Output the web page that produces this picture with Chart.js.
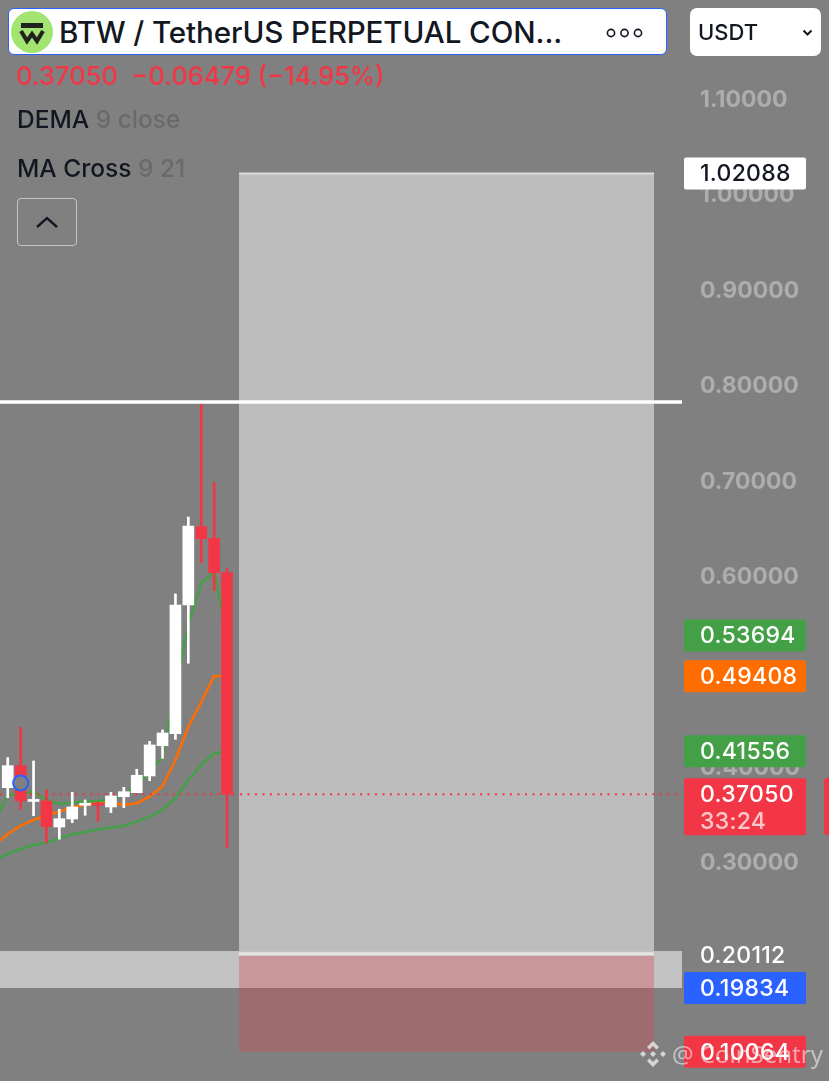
<!DOCTYPE html>
<html>
<head>
<meta charset="utf-8">
<script src="https://cdn.jsdelivr.net/npm/chart.js@4"></script>
<style>
  html, body { margin: 0; padding: 0; background: #808080; }
  body { position: relative; width: 829px; height: 1081px; overflow: hidden; font-family: Inter, Roboto, sans-serif; }
  #priceChart { position: absolute; left: 0; top: 0; }
  .abs { position: absolute; white-space: nowrap; }
  #titleBox { left: 8px; top: 8px; width: 657px; height: 45px; background: #fff; border: 1.5px solid #2962ff; border-radius: 6px; }
  #title { left: 59px; top: 13px; font-size: 29.6px; line-height: 38px; font-weight: 500; color: #131722; letter-spacing: -0.1px; }
  #dots { left: 606px; top: 27px; }
  #unitBox { left: 690px; top: 8px; width: 131px; height: 48px; background: #fff; border-radius: 7px; }
  #unit { left: 698px; top: 18px; font-size: 22px; line-height: 28px; font-weight: 500; color: #131722; }
  #price { left: 16px; top: 61px; font-size: 25.5px; line-height: 30px; font-weight: 500; color: #f23645; }
  .study { left: 17px; font-size: 24.5px; line-height: 30px; font-weight: 500; color: #131722; }
  .study span { color: #6a6a6a; }
  #collapse { left: 17px; top: 198px; width: 58px; height: 46px; border: 1.5px solid #c4c4c4; border-radius: 4px; }
  #edge { left: 824px; top: 778px; width: 5px; height: 57px; background: #f23645; border-radius: 3px 0 0 3px; }
  #mark { left: 672px; top: 1039px; font-size: 24px; line-height: 30px; font-family: "Noto Sans", sans-serif; color: rgba(235,235,235,.62); }
</style>
</head>
<body>
<canvas id="priceChart" width="829" height="1081"></canvas>

<div class="abs" id="titleBox"></div>
<svg class="abs" style="left:11px;top:11px" width="42" height="42" viewBox="0 0 42 42">
  <circle cx="21" cy="21" r="21" fill="#a3e36f"/>
  <rect x="10" y="12" width="22" height="5" fill="#222"/>
  <path d="M10 20 L16 30 L21 23 L26 30 L32 20" fill="none" stroke="#222" stroke-width="4"/>
</svg>
<div class="abs" id="title">BTW / TetherUS PERPETUAL CON...</div>
<svg class="abs" id="dots" width="38" height="12" viewBox="0 0 38 12" fill="none" stroke="#131722" stroke-width="1.6">
  <circle cx="5" cy="6" r="3.6"/><circle cx="18.5" cy="6" r="3.6"/><circle cx="32" cy="6" r="3.6"/>
</svg>
<div class="abs" id="unitBox"></div>
<div class="abs" id="unit">USDT</div>
<svg class="abs" style="left:802px;top:29px" width="11" height="8" viewBox="0 0 11 8" fill="none" stroke="#131722" stroke-width="2">
  <path d="M1.5 1.5 L5.5 5.5 L9.5 1.5"/>
</svg>
<div class="abs" id="price">0.37050&nbsp; −0.06479 (−14.95%)</div>
<div class="abs study" style="top:104px">DEMA <span>9 close</span></div>
<div class="abs study" style="top:153px">MA Cross <span>9 21</span></div>
<div class="abs" id="collapse"></div>
<svg class="abs" style="left:35px;top:215px" width="24" height="14" viewBox="0 0 24 14" fill="none" stroke="#131722" stroke-width="2.4">
  <path d="M2 12 L12 3 L22 12"/>
</svg>
<div class="abs" id="edge"></div>
<svg class="abs" style="left:639px;top:1040px;opacity:.8" width="28" height="28" viewBox="0 0 28 28" fill="#ebebeb">
  <path d="M14 1 L20 7 L17.5 9.5 L14 6 L10.5 9.5 L8 7 Z"/>
  <path d="M14 27 L8 21 L10.5 18.5 L14 22 L17.5 18.5 L20 21 Z"/>
  <path d="M1 14 L4 11 L7 14 L4 17 Z"/><path d="M21 14 L24 11 L27 14 L24 17 Z"/>
  <path d="M14 11 L17 14 L14 17 L11 14 Z"/>
</svg>
<div class="abs" id="mark">@ CoinSentry</div>

<script>
// candles, oldest first; index 0 is the first one fully on screen
const opens  = [0.3774, 0.4005, 0.3630, 0.3635, 0.3362, 0.3446, 0.3590, 0.3603, 0.3572, 0.3680, 0.3722, 0.3897, 0.4214, 0.4340, 0.5688, 0.6509, 0.6387, 0.6027];
const closes = [0.4005, 0.3635, 0.3645, 0.3366, 0.3449, 0.3572, 0.3600, 0.3590, 0.3687, 0.3732, 0.3904, 0.4222, 0.4347, 0.5688, 0.6516, 0.6383, 0.6027, 0.3705];
const highs  = [0.4089, 0.4407, 0.4054, 0.3750, 0.3548, 0.3726, 0.3645, 0.3621, 0.3726, 0.3778, 0.3967, 0.4260, 0.4379, 0.5804, 0.6610, 0.7794, 0.6974, 0.6073];
const lows   = [0.3669, 0.3548, 0.3481, 0.3195, 0.3234, 0.3407, 0.3485, 0.3422, 0.3512, 0.3565, 0.3722, 0.3848, 0.4082, 0.4281, 0.5078, 0.6131, 0.5838, 0.3146];

// indicator lines start one bar before index 0 so they run off the left edge
const demaFast = [0.3415, 0.3698, 0.3708, 0.3734, 0.3645, 0.3603, 0.3617, 0.3632, 0.3635, 0.3645, 0.3705, 0.3802, 0.3942, 0.4096, 0.4808, 0.5479, 0.5919, 0.6034, 0.53694];
const maFast   = [0.3174, 0.3289, 0.3376, 0.3436, 0.3488, 0.3523, 0.3569, 0.3593, 0.3617, 0.3624, 0.3593, 0.3611, 0.3680, 0.3792, 0.4064, 0.4413, 0.4672, 0.4944, 0.49408];
const maSlow   = [0.3017, 0.3080, 0.3132, 0.3174, 0.3198, 0.3244, 0.3286, 0.3310, 0.3338, 0.3355, 0.3376, 0.3418, 0.3470, 0.3541, 0.3663, 0.3855, 0.4012, 0.4135, 0.41556];

const tickValues = [1.1, 1.0, 0.9, 0.8, 0.7, 0.6, 0.5, 0.4, 0.3];

const lastPrice  = 0.3705;
const whiteLevel = 0.7815;
const markerBar  = 1;
const markerY    = 0.3823;

// long position drawing
const boxFrom = 17.93, boxTo = 50.1;
const targetPrice = 1.02088, entryEdge = 0.2035, entryPrice = 0.20112, stopPrice = 0.10064;
const bandTop = 0.2063, bandBottom = 0.16757;

// price tags on the right; the blue one sits at the band bottom, pushed off the entry label
const tagValues = [1.02088, 0.53694, 0.49408, 0.41556, bandBottom, 0.10064];
const tagLabels = ['1.02088', '0.53694', '0.49408', '0.41556', '0.19834', '0.10064'];
const tagFills  = ['#ffffff', '#43a047', '#ff6d00', '#43a047', '#2962ff', '#f23645'];
const tagInks   = ['#131722', '#ffffff', '#ffffff', '#ffffff', '#ffffff', '#ffffff'];

const RED = '#f23645', WHITE = '#ffffff';
const barIndex = opens.map((_, i) => i);
const barColors = opens.map((o, i) => closes[i] >= o ? WHITE : RED);
const lineData = arr => arr.map((y, i) => ({ x: i - 1, y }));

function lineSet(data, color, width, order, extra) {
  return Object.assign({
    type: 'line', data, borderColor: color, borderWidth: width, order,
    pointRadius: 0, tension: 0, fill: false
  }, extra || {});
}

const xMin = -0.6, xMax = 52.27;

const tagPlugin = {
  id: 'tags',
  afterDraw(chart) {
    const ctx = chart.ctx, y = chart.scales.y;
    ctx.save();
    ctx.font = '500 23px Inter';
    ctx.letterSpacing = '0.3px';
    ctx.textBaseline = 'middle';
    tagValues.forEach((v, i) => {
      const py = y.getPixelForValue(v);
      ctx.fillStyle = tagFills[i];
      ctx.beginPath();
      ctx.roundRect(684, py - 16, 122, 32, 2);
      ctx.fill();
      ctx.fillStyle = tagInks[i];
      ctx.fillText(tagLabels[i], 700, py + 1);
    });
    // last price tag has the countdown under it
    const py = y.getPixelForValue(lastPrice);
    ctx.fillStyle = RED;
    ctx.beginPath();
    ctx.roundRect(684, py - 16, 122, 57, 2);
    ctx.fill();
    ctx.fillStyle = WHITE;
    ctx.fillText('0.37050', 700, py + 1);
    ctx.fillStyle = 'rgba(255,255,255,.72)';
    ctx.fillText('33:24', 700, py + 28);
    // entry level has no background
    ctx.fillStyle = WHITE;
    ctx.fillText('0.20112', 700, y.getPixelForValue(entryPrice));
    ctx.restore();
  }
};

new Chart(document.getElementById('priceChart').getContext('2d'), {
  type: 'bar',
  data: {
    datasets: [
      lineSet([{ x: boxFrom, y: targetPrice }, { x: boxTo, y: targetPrice }], '#dcdcdc', 2, 90, { fill: { value: entryEdge }, backgroundColor: '#bdbdbd' }),
      lineSet([{ x: xMin, y: bandTop }, { x: xMax, y: bandTop }], 'rgba(0,0,0,0)', 0, 85, { fill: { value: bandBottom }, backgroundColor: '#c2c2c2' }),
      lineSet([{ x: boxFrom, y: entryPrice }, { x: boxTo, y: entryPrice }], 'rgba(0,0,0,0)', 0, 80, { fill: { value: stopPrice }, backgroundColor: 'rgba(214,68,76,.35)' }),
      lineSet([{ x: boxFrom, y: entryEdge }, { x: boxTo, y: entryEdge }], '#e6e6e0', 3, 75),
      lineSet(lineData(maSlow), '#43a047', 2.5, 60),
      lineSet(lineData(maFast), '#ff6d00', 2.6, 59),
      lineSet(lineData(demaFast), '#43a047', 2.5, 58),
      lineSet([{ x: xMin, y: lastPrice }, { x: xMax, y: lastPrice }], RED, 2, 50, { borderDash: [2, 5.5] }),
      {
        data: barIndex.map(i => ({ x: i, y: [lows[i], highs[i]] })),
        backgroundColor: barColors, barThickness: 2, order: 40
      },
      {
        data: barIndex.map(i => ({ x: i, y: [opens[i], closes[i]] })),
        backgroundColor: barColors, barThickness: 11, minBarLength: 2, order: 39
      },
      lineSet([{ x: xMin, y: whiteLevel }, { x: xMax, y: whiteLevel }], WHITE, 3.5, 30),
      lineSet([{ x: markerBar, y: markerY }], '#2962ff', 2, 20, {
        pointRadius: 7.5, pointBackgroundColor: '#808080', pointBorderColor: '#2962ff', pointBorderWidth: 2
      })
    ]
  },
  options: {
    responsive: false,
    animation: false,
    grouped: false,
    layout: { padding: 0, autoPadding: false },
    plugins: { legend: { display: false }, tooltip: { enabled: false } },
    scales: {
      x: { type: 'linear', min: xMin, max: xMax, display: false, offset: false, grid: { display: false } },
      y: {
        position: 'right', min: 0.0701, max: 1.20267,
        border: { display: false },
        grid: { display: false, drawTicks: false },
        // full height plot: tick padding must not shrink it
        afterFit(s) { s.width = 147; s.paddingTop = 0; s.paddingBottom = 0; },
        afterBuildTicks(s) { s.ticks = tickValues.map(value => ({ value })); },
        ticks: {
          color: '#adadad', padding: 18, labelOffset: 2, align: 'center', crossAlign: 'near',
          font: { family: 'Inter', size: 23, weight: '700' },
          callback: v => v.toFixed(5)
        }
      }
    }
  },
  plugins: [tagPlugin]
});
</script>
</body>
</html>
